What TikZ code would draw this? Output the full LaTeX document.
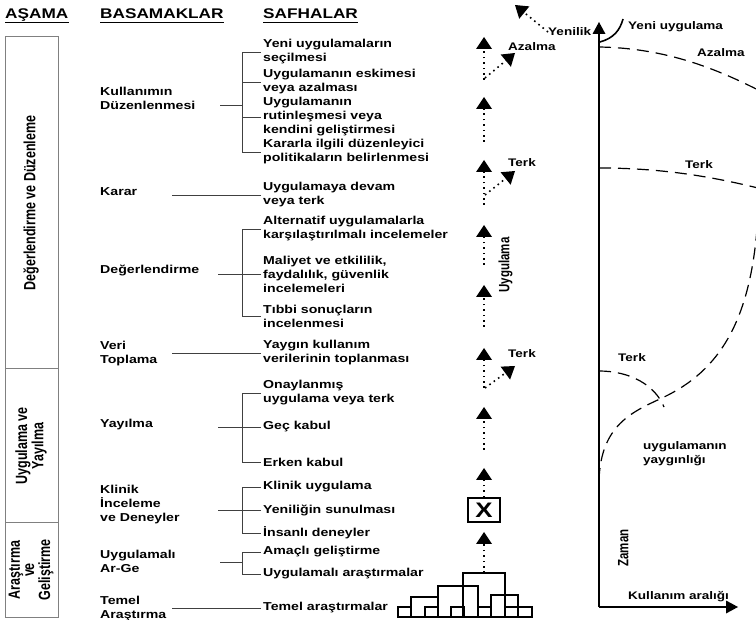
\documentclass[tikz,border=0pt]{standalone}
\usepackage{fontspec}
\setmainfont{Liberation Sans}[FakeStretch=1.23]
\newfontfamily\rotsans{Liberation Sans}
\usetikzlibrary{arrows.meta}
\newcommand{\tallstack}[1]{\scalebox{1}[1.3]{\begin{tabular}{@{}c@{}}#1\end{tabular}}}

\begin{document}
\begin{tikzpicture}[
    x=1pt, y=-1pt,
    font=\bfseries\fontsize{11.5}{14}\selectfont,
    head/.style={anchor=west, inner sep=0pt, text depth=0pt, font=\bfseries\fontsize{14}{15}\selectfont},
    stage/.style={draw=black!50, line width=1pt, rotate=90, minimum height=53pt, inner sep=0pt, align=center, font=\rotsans\bfseries\fontsize{12.5}{11}\selectfont},
    lbl/.style={anchor=west, align=left, inner sep=0pt},
    item/.style={anchor=west, align=left, inner xsep=2pt, inner ysep=0pt},
    glabel/.style={anchor=west, align=left, inner sep=0pt, font=\bfseries\fontsize{11}{14}\selectfont},
    vlabel/.style={rotate=90, inner sep=0pt, font=\rotsans\bfseries\fontsize{11.5}{13}\selectfont},
    link/.style={draw=black!75, line width=0.8pt},
    dotarrow/.style={line width=1.6pt, dash pattern=on 1.6pt off 3.8pt, -{Triangle[width=16pt,length=12pt,line width=0pt]}},
    axisline/.style={line width=1.3pt, -{Triangle[width=13pt,length=12pt,line width=0pt]}},
    trend/.style={line width=1.2pt, dash pattern=on 12pt off 7pt},
    histbar/.style={line width=1.1pt}
  ]
    \useasboundingbox (0,0) rectangle (756,620);

    % column heads
    \node[head] (asama) at (5,14) {AŞAMA};
    \node[head] (basamak) at (100,14) {BASAMAKLAR};
    \node[head] (safha) at (263,14) {SAFHALAR};
    \draw[line width=1.3pt] ([yshift=-3.5pt]asama.south west) -- ([yshift=-3.5pt]asama.south east);
    \draw[line width=1.3pt] ([yshift=-3.5pt]basamak.south west) -- ([yshift=-3.5pt]basamak.south east);
    \draw[line width=1.3pt] ([yshift=-3.5pt]safha.south west) -- ([yshift=-3.5pt]safha.south east);

    % stages
    \node[stage, minimum width=332pt] (s1) at (31.5,203) {\tallstack{Değerlendirme ve Düzenleme}};
    \node[stage, minimum width=154pt] (s2) at (31.5,446) {\tallstack{Uygulama ve\\Yayılma}};
    \node[stage, minimum width=94pt] (s3) at (31.5,570) {\tallstack{Araştırma\\ve\\Geliştirme}};

    % steps
    \node[lbl] (kul) at (100,98) {Kullanımın\\Düzenlenmesi};
    \node[lbl] (karar) at (100,192) {Karar};
    \node[lbl] (deg) at (100,270) {Değerlendirme};
    \node[lbl] (veri) at (100,354) {Veri\\Toplama};
    \node[lbl] (yay) at (100,425) {Yayılma};
    \node[lbl] (klinik) at (100,505) {Klinik\\İnceleme\\ve Deneyler};
    \node[lbl] (arge) at (100,561) {Uygulamalı\\Ar-Ge};
    \node[lbl] (temel) at (100,609) {Temel\\Araştırma};

    % phases
    \node[item] (k1) at (261,52) {Yeni uygulamaların\\seçilmesi};
    \node[item] (k2) at (261,82) {Uygulamanın eskimesi\\veya azalması};
    \node[item] (k3) at (261,117) {Uygulamanın\\rutinleşmesi veya\\kendini geliştirmesi};
    \node[item] (k4) at (261,152) {Kararla ilgili düzenleyici\\politikaların belirlenmesi};
    \node[item] (kr1) at (261,195) {Uygulamaya devam\\veya terk};
    \node[item] (d1) at (261,229) {Alternatif uygulamalarla\\karşılaştırılmalı incelemeler};
    \node[item] (d2) at (261,274) {Maliyet ve etkililik,\\faydalılık, güvenlik\\incelemeleri};
    \node[item] (d3) at (261,316) {Tıbbi sonuçların\\incelenmesi};
    \node[item] (v1) at (261,353) {Yaygın kullanım\\verilerinin toplanması};
    \node[item] (y1) at (261,393) {Onaylanmış\\uygulama veya terk};
    \node[item] (y2) at (261,427) {Geç kabul};
    \node[item] (y3) at (261,462) {Erken kabul};
    \node[item] (c1) at (261,487) {Klinik uygulama};
    \node[item] (c2) at (261,510) {Yeniliğin sunulması};
    \node[item] (c3) at (261,533) {İnsanlı deneyler};
    \node[item] (a1) at (261,552) {Amaçlı geliştirme};
    \node[item] (a2) at (261,574) {Uygulamalı araştırmalar};
    \node[item] (t1) at (261,608) {Temel araştırmalar};

    % brackets
    \coordinate (kj) at (242,105);
    \draw[link] (kj) -- ++(-22,0);
    \draw[link] (k1.west) -- (k1.west -| kj) -- (k4.west -| kj) -- (k4.west);
    \draw[link] (k2.west) -- (k2.west -| kj);
    \draw[link] (k3.west) -- (k3.west -| kj);
    \draw[link] (kr1.west) -- ++(-89,0);
    \coordinate (dj) at (242,0);
    \draw[link] (d1.west) -- (d1.west -| dj) -- (d3.west -| dj) -- (d3.west);
    \draw[link] (d2.west) -- ++(-43,0);
    \draw[link] (v1.west) -- ++(-89,0);
    \draw[link] (y1.west) -- (y1.west -| dj) -- (y3.west -| dj) -- (y3.west);
    \draw[link] (y2.west) -- ++(-43,0);
    \draw[link] (c1.west) -- (c1.west -| dj) -- (c3.west -| dj) -- (c3.west);
    \draw[link] (c2.west) -- ++(-43,0);
    \coordinate (aj) at (242,562);
    \draw[link] (aj) -- ++(-22,0);
    \draw[link] (a1.west) -- (a1.west -| aj) -- (a2.west -| aj) -- (a2.west);
    \draw[link] (t1.west) -- ++(-89,0);

    % dotted column
    \draw[dotarrow] (484,80) -- (484,37);
    \draw[dotarrow] (485,78) -- (515,53);
    \draw[dotarrow] (484,142) -- (484,97);
    \draw[dotarrow] (484,205) -- (484,160);
    \draw[dotarrow] (485,195) -- (515,171);
    \draw[dotarrow] (484,265) -- (484,225);
    \draw[dotarrow] (484,327) -- (484,285);
    \draw[dotarrow] (484,388) -- (484,348);
    \draw[dotarrow] (485,388) -- (515,366);
    \draw[dotarrow] (484,450) -- (484,407);
    \node[draw, line width=1.5pt, minimum width=32pt, minimum height=24pt, inner sep=0pt, font=\bfseries\fontsize{21}{21}\selectfont] (xbox) at (484,510) {X};
    \draw[dotarrow] (xbox.north) -- (484,468);
    \draw[dotarrow] (484,573) -- (484,532);
    \node[vlabel] (uyg) at (506,265) {\tallstack{Uygulama}};
    \node[glabel] (azalma1) at (508,47) {Azalma};
    \node[glabel] (terk1) at (508,163) {Terk};
    \node[glabel] (terk2) at (508,354) {Terk};
    \node[glabel] (yenilik) at (548,32) {Yenilik};
    \draw[dotarrow] (yenilik.west) -- (515,5);

    % basic research histogram
    \draw[histbar] (398,607) rectangle (411,617);
    \draw[histbar] (411,597) rectangle (438,617);
    \draw[histbar] (425,607) rectangle (438,617);
    \draw[histbar] (438,586) rectangle (478,617);
    \draw[histbar] (451,607) rectangle (464,617);
    \draw[histbar] (463,573) rectangle (505,617);
    \draw[histbar] (478,607) rectangle (491,617);
    \draw[histbar] (491,595) rectangle (518,617);
    \draw[histbar] (505,607) rectangle (518,617);
    \draw[histbar] (518,607) rectangle (532,617);

    % time / range graph
    \coordinate (o) at (599,607);
    \draw[axisline] (o) -- (599,22);
    \draw[axisline] (o) -- (738,607);
    \draw[line width=1.6pt] (600,42) .. controls (614,38) and (620,30) .. (623,19);
    \node[glabel] (yeni) at (628,27) {Yeni uygulama};
    \draw[trend] (599,47) .. controls (660,48) and (710,65) .. (762,92);
    \node[glabel] (azalma2) at (697,53) {Azalma};
    \draw[trend] (599,168) .. controls (660,168) and (710,176) .. (762,189);
    \node[glabel] (terk3) at (685,165) {Terk};
    \draw[trend] (599,480) .. controls (601,425) and (632,412) .. (662,398) .. controls (720,371) and (752,320) .. (758,215);
    \draw[trend] (599,371) .. controls (630,371) and (655,385) .. (664,407);
    \node[glabel] (terk4) at (618,358) {Terk};
    \node[glabel] (yaygin) at (643,454) {uygulamanın\\yaygınlığı};
    \node[vlabel] (zaman) at (625,548) {\tallstack{Zaman}};
    \node[glabel] (aralik) at (628,597) {Kullanım aralığı};
  \end{tikzpicture}
\end{document}
